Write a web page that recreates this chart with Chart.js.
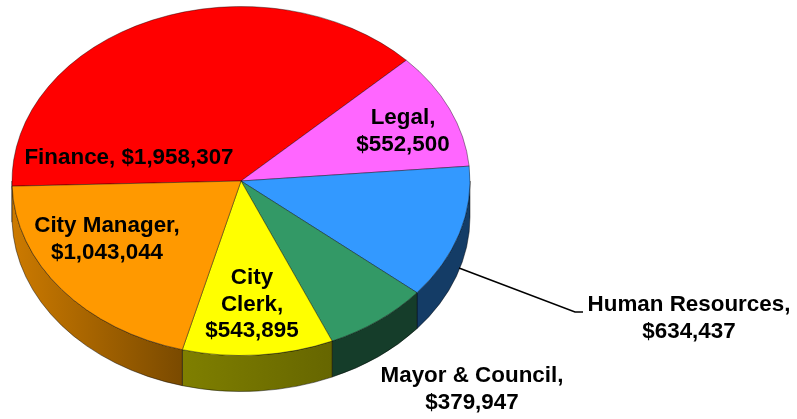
<!DOCTYPE html>
<html>
<head>
<meta charset="utf-8">
<style>
html, body { margin: 0; padding: 0; background: #fff; overflow: hidden; }
canvas { display: block; }
</style>
<script src="https://cdn.jsdelivr.net/npm/chart.js@4"></script>
</head>
<body>
<canvas id="chart" width="797" height="419"></canvas>
<script>
const categories = ["Finance", "Legal", "Human Resources", "Mayor & Council", "City Clerk", "City Manager"];
const amounts = [1958307, 552500, 634437, 379947, 543895, 1043044];
const topColors = ["#ff0000", "#ff66ff", "#3399ff", "#339966", "#ffff00", "#ff9900"];
// wall colours: left end, right end
const wallColors = {
  "Human Resources": ["#143c66", "#143c66"],
  "Mayor & Council": ["#153d2a", "#153d2a"],
  "City Clerk": ["#7f7f00", "#666600"],
  "City Manager": ["#cc7a00", "#7a4a00"],
  "Finance": ["#cc7a00", "#cc7a00"]
};

const squash = 0.762, depth = 36, radius = 229;

function money(v) { return "$" + v.toLocaleString("en-US"); }

// label lines per slice, wrapped like the original
const labelLines = [
  [categories[0] + ", " + money(amounts[0])],
  ["Legal,", money(amounts[1])],
  [categories[2] + ",", money(amounts[2])],
  [categories[3] + ",", money(amounts[3])],
  ["City", "Clerk,", money(amounts[4])],
  [categories[5] + ",", money(amounts[5])]
];
const labelX = [129, 403, 689, 472, 252, 107];
const labelY = [158, 118, 305, 376, 278, 226];

const squashPlugin = {
  id: "squash",
  beforeDatasetsDraw(chart) {
    const ctx = chart.ctx;
    const arcs = chart.getDatasetMeta(0).data;
    const cx = arcs[0].x, cy = arcs[0].y;
    const twoPi = Math.PI * 2;
    // side walls first, only the part on the front of the pie shows
    arcs.forEach((arc, i) => {
      let start = arc.startAngle, end = arc.endAngle;
      while (end > twoPi) { start -= twoPi; end -= twoPi; }
      start = Math.max(start, 0);
      end = Math.min(end, Math.PI);
      if (end <= start) return;
      const cols = wallColors[categories[i]];
      const x0 = cx + radius * Math.cos(end), x1 = cx + radius * Math.cos(start);
      const g = ctx.createLinearGradient(x0, 0, x1, 0);
      g.addColorStop(0, cols[0]);
      g.addColorStop(1, cols[1]);
      ctx.beginPath();
      ctx.ellipse(cx, cy, radius, radius * squash, 0, start, end);
      ctx.ellipse(cx, cy + depth, radius, radius * squash, 0, end, start, true);
      ctx.closePath();
      ctx.fillStyle = g;
      ctx.fill();
      ctx.strokeStyle = "rgba(0,0,0,0.45)";
      ctx.lineWidth = 1;
      ctx.stroke();
    });
    ctx.save();
    ctx.translate(0, cy);
    ctx.scale(1, squash);
    ctx.translate(0, -cy);
  },
  afterDatasetsDraw(chart) {
    chart.ctx.restore();
  },
  afterDraw(chart) {
    const ctx = chart.ctx;
    // leader line for Human Resources
    ctx.beginPath();
    ctx.moveTo(459, 268);
    ctx.lineTo(575, 312);
    ctx.lineTo(583, 312);
    ctx.strokeStyle = "#000";
    ctx.lineWidth = 1.5;
    ctx.stroke();
    ctx.fillStyle = "#000";
    ctx.font = "bold 22.4px 'Liberation Sans'";
    ctx.textAlign = "center";
    ctx.textBaseline = "middle";
    labelLines.forEach((lines, i) => {
      lines.forEach((line, j) => {
        ctx.fillText(line, labelX[i], labelY[i] + j * 26.5);
      });
    });
  }
};

new Chart(document.getElementById("chart"), {
  type: "pie",
  data: {
    labels: categories,
    datasets: [{
      data: amounts,
      backgroundColor: topColors,
      borderColor: "rgba(0,0,0,0.45)",
      borderWidth: 1,
      radius: radius,
      clip: false
    }]
  },
  options: {
    responsive: false,
    animation: false,
    rotation: 268.3,
    layout: { padding: { left: 12, right: 327, top: 0, bottom: 57 } },
    plugins: { legend: { display: false }, tooltip: { enabled: false } }
  },
  plugins: [squashPlugin]
});
</script>
</body>
</html>
